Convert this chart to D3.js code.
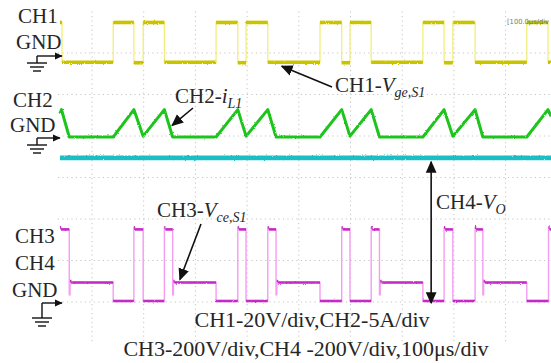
<!DOCTYPE html>
<html>
<head>
<meta charset="utf-8">
<script src="https://cdn.jsdelivr.net/npm/d3@7"></script>
<style>
  html, body { margin: 0; padding: 0; background: #fff; }
  svg { display: block; }
</style>
</head>
<body>
<svg id="scope" width="551" height="363"></svg>
<script>
// ---- Time base (µs) ----
const timeGrid = [100, 200, 300, 400, 500, 600, 700, 800, 900];
const tStart = 38, tEnd = 988;

// ---- CH1: gate voltage Vge,S1 (V), step waveform: value holds from each time ----
const ch1Time = [38, 42, 141, 181, 199, 240, 340, 382, 398, 440, 541, 583, 599, 640, 740, 781, 798, 841, 941, 982];
const ch1Volt = [15.2, -4, 15.2, -4.2, 15.2, -4, 15.2, -4.2, 15.2, -4, 15.2, -4.2, 15.2, -4, 15.2, -4.2, 15.2, -4, 15.2, -4];

// ---- CH2: inductor current iL1 (A), piecewise linear ----
const ch2Time = [38, 41, 56, 141, 181, 199, 240, 256, 340, 382, 398, 440, 456, 541, 583, 599, 640, 656, 740, 781, 798, 841, 856, 941, 982, 988];
const ch2Amp  = [2.8, 3.3, 0, 0, 3.3, 0.1, 3.3, 0, 0, 3.3, 0.1, 3.3, 0, 0, 3.3, 0.1, 3.3, 0, 0, 3.3, 0.1, 3.3, 0, 0, 3.3, 2.5];

// ---- CH3: switch voltage Vce,S1 (V), step waveform ----
const ch3Time = [38, 40, 56, 57.5, 60, 141, 181, 183, 199, 240, 242, 256, 257.5, 260,
                 340, 382, 384, 398, 440, 442, 456, 457.5, 460,
                 541, 583, 585, 599, 640, 642, 656, 657.5, 660,
                 740, 781, 783, 798, 841, 843, 856, 857.5, 860,
                 941, 983, 985];
const ch3Volt = [355, 345, 30, 96, 89, 0, 355, 345, 0, 355, 345, 30, 96, 89,
                 0, 355, 345, 0, 355, 345, 30, 96, 89,
                 0, 355, 345, 0, 355, 345, 30, 96, 89,
                 0, 355, 345, 0, 355, 345, 30, 96, 89,
                 0, 355, 345];

// ---- CH4: output voltage Vo (V) ----
const ch4Time = [38, 988];
const ch4Volt = [690, 690];

// ---- Texts ----
const leftLabels = [
  { text: "CH1", x: 18, y: 23 }, { text: "GND", x: 16, y: 49 },
  { text: "CH2", x: 13, y: 107 }, { text: "GND", x: 10, y: 132 },
  { text: "CH3", x: 15, y: 243 }, { text: "CH4", x: 15, y: 270 },
  { text: "GND", x: 12, y: 297 }
];
const scaleNotes = ["CH1-20V/div,CH2-5A/div", "CH3-200V/div,CH4 -200V/div,100μs/div"];

const svg = d3.select("#scope");
const serif = "'Liberation Serif','Times New Roman',serif";

// Scales: 10 horizontal divisions of 100 µs, 41.5 px per vertical division
const x = d3.scaleLinear().domain([0, 1000]).range([40.3, 557.3]);
const yDiv = d3.scaleLinear().domain([0, 8]).range([11.5, 343.5]);
const y1 = d3.scaleLinear().domain([0, 20]).range([54, 54 - 41.5]);
const y2 = d3.scaleLinear().domain([0, 5]).range([137, 137 - 41.5]);
const y34 = d3.scaleLinear().domain([0, 200]).range([301, 301 - 41.5]);

// Noise texture for the traces
const defs = svg.append("defs");
const f = defs.append("filter").attr("id", "jitter").attr("filterUnits", "userSpaceOnUse")
  .attr("x", 0).attr("y", 0).attr("width", 551).attr("height", 363);
f.append("feTurbulence").attr("type", "fractalNoise").attr("baseFrequency", 0.9)
  .attr("numOctaves", 1).attr("seed", 4).attr("result", "n");
f.append("feDisplacementMap").attr("in", "SourceGraphic").attr("in2", "n")
  .attr("scale", 2.4).attr("xChannelSelector", "R").attr("yChannelSelector", "G");

function marker(id, size) {
  defs.append("marker").attr("id", id).attr("viewBox", "0 0 10 10")
    .attr("refX", 9).attr("refY", 5).attr("markerUnits", "userSpaceOnUse")
    .attr("markerWidth", size).attr("markerHeight", size).attr("orient", "auto-start-reverse")
    .append("path").attr("d", "M0,0.5 L10,5 L0,9.5 Z").attr("fill", "#111");
}
marker("ah", 12);
marker("ahs", 8);

// ---- Graticule ----
const grid = svg.append("g").attr("stroke", "#c4c4c4").attr("stroke-width", 1)
  .attr("stroke-dasharray", "1.2,3.3");
grid.selectAll("line.v").data(timeGrid).join("line").attr("class", "v")
  .attr("x1", d => x(d)).attr("x2", d => x(d))
  .attr("y1", yDiv(0)).attr("y2", yDiv(8));
grid.selectAll("line.h").data(d3.range(1, 8)).join("line").attr("class", "h")
  .attr("x1", x(34)).attr("x2", 551)
  .attr("y1", d => yDiv(d)).attr("y2", d => yDiv(d));

// helpers
const zip = (t, v) => t.map((ti, i) => [ti, v[i]]);
function stepSegments(t, v) {
  return t.map((ti, i) => [ti, i < t.length - 1 ? t[i + 1] : tEnd, v[i]]);
}

// ---- CH4 (cyan) ----
svg.append("path").datum(zip(ch4Time, ch4Volt))
  .attr("d", d3.line().x(d => x(d[0])).y(d => y34(d[1])))
  .attr("fill", "none").attr("stroke", "#1fbec6").attr("stroke-width", 4.6)
  .attr("filter", "url(#jitter)");

// ---- CH2 (green) ----
svg.append("path").datum(zip(ch2Time, ch2Amp))
  .attr("d", d3.line().x(d => x(d[0])).y(d => y2(d[1])))
  .attr("fill", "none").attr("stroke", "#1fc41f").attr("stroke-width", 3)
  .attr("stroke-linejoin", "round").attr("filter", "url(#jitter)");

// ---- CH1 (yellow): thin edges + thick levels ----
const stepLine = (ys) => d3.line().curve(d3.curveStepAfter).x(d => x(d[0])).y(d => ys(d[1]));
svg.append("path").datum(zip(ch1Time, ch1Volt).concat([[tEnd, ch1Volt[ch1Volt.length - 1]]]))
  .attr("d", stepLine(y1)).attr("fill", "none").attr("stroke", "#f3ee7a").attr("stroke-width", 1.3);
svg.append("g").attr("filter", "url(#jitter)")
  .selectAll("line").data(stepSegments(ch1Time, ch1Volt)).join("line")
  .attr("x1", d => x(d[0])).attr("x2", d => x(d[1]))
  .attr("y1", d => y1(d[2])).attr("y2", d => y1(d[2]))
  .attr("stroke", "#c9c300").attr("stroke-width", 3.6);

// ---- CH3 (magenta): thin edges + thick levels ----
svg.append("path").datum(zip(ch3Time, ch3Volt).concat([[tEnd, ch3Volt[ch3Volt.length - 1]]]))
  .attr("d", stepLine(y34)).attr("fill", "none").attr("stroke", "#f59cf3").attr("stroke-width", 1.4);
svg.append("g").attr("filter", "url(#jitter)")
  .selectAll("line").data(stepSegments(ch3Time, ch3Volt).filter(d => d[1] - d[0] > 1.6)).join("line")
  .attr("x1", d => x(d[0])).attr("x2", d => x(d[1]))
  .attr("y1", d => y34(d[2])).attr("y2", d => y34(d[2]))
  .attr("stroke", "#c629c6").attr("stroke-width", 2.6);

// ---- Channel labels ----
svg.append("g").attr("font-family", serif).attr("font-size", 21).attr("fill", "#262626")
  .selectAll("text").data(leftLabels).join("text")
  .attr("x", d => d.x).attr("y", d => d.y).text(d => d.text);

// ---- Ground reference symbols ----
function ground(x0, x1, yA, drop) {
  const g = svg.append("g").attr("stroke", "#111").attr("stroke-width", 1.4).attr("fill", "none");
  g.append("line").attr("x1", x0).attr("x2", x1).attr("y1", yA).attr("y2", yA).attr("marker-end", "url(#ahs)");
  g.append("line").attr("x1", x0).attr("x2", x0).attr("y1", yA).attr("y2", yA + drop);
  [[10, 0], [7, 4], [4, 8]].forEach(([hw, dy]) => {
    g.append("line").attr("x1", x0 - hw).attr("x2", x0 + hw)
      .attr("y1", yA + drop + dy).attr("y2", yA + drop + dy);
  });
}
ground(37, x(tStart) + 2, y1(0) + 2, 7);
ground(37, x(tStart), y2(0) + 1, 7);
ground(42, x(tStart) + 2, y34(0) + 2, 15);

// ---- Annotations ----
const ann = svg.append("g").attr("font-family", serif).attr("font-size", 21).attr("fill", "#262626");
function label(xp, yp, main, sym, sub) {
  const t = ann.append("text").attr("x", xp).attr("y", yp);
  t.append("tspan").text(main);
  t.append("tspan").attr("font-style", "italic").text(sym);
  t.append("tspan").attr("font-style", "italic").attr("font-size", 14).attr("dy", 5).text(sub);
}
function arrow(xa, ya, xb, yb, both) {
  const l = svg.append("line").attr("x1", xa).attr("y1", ya).attr("x2", xb).attr("y2", yb)
    .attr("stroke", "#111").attr("stroke-width", 1.6).attr("marker-end", "url(#ah)");
  if (both) l.attr("marker-start", "url(#ah)");
}
label(335, 92, "CH1-", "V", "ge,S1");
arrow(332, 87, x(467), y1(-4) + 4);
label(175, 103, "CH2-", "i", "L1");
arrow(193, 108, x(255), y2(1.4));
label(157, 217, "CH3-", "V", "ce,S1");
arrow(201, 224, x(270), y34(89) - 3);
label(436, 209, "CH4-", "V", "O");
arrow(x(756), y34(690) + 4, x(756), y34(0) + 2, true);

// ---- Scale settings ----
svg.append("g").attr("font-family", serif).attr("font-size", 22).attr("fill", "#262626")
  .attr("text-anchor", "middle")
  .selectAll("text").data(scaleNotes).join("text")
  .attr("x", (d, i) => i === 0 ? 312 : 306).attr("y", (d, i) => i === 0 ? 327 : 356)
  .text(d => d);

// timebase readout
svg.append("text").attr("x", 507).attr("y", 24).attr("font-family", "'DejaVu Sans',sans-serif")
  .attr("font-size", 7).attr("fill", "#777")
  .attr("textLength", 42).attr("lengthAdjust", "spacingAndGlyphs").text("[100.0μs/div");
</script>
</body>
</html>
